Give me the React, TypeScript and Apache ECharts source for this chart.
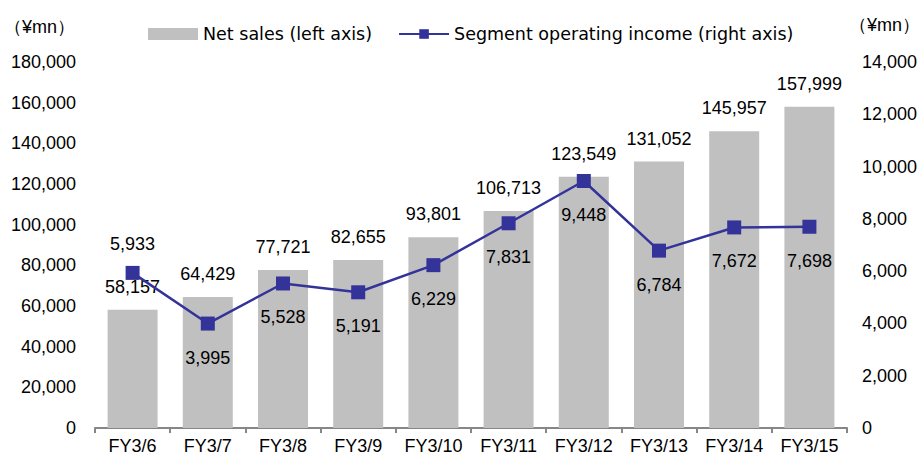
import React, { useEffect, useRef } from "react";
import * as echarts from "echarts";

const categories = ["FY3/6", "FY3/7", "FY3/8", "FY3/9", "FY3/10", "FY3/11", "FY3/12", "FY3/13", "FY3/14", "FY3/15"];
const netSales = [58157, 64429, 77721, 82655, 93801, 106713, 123549, 131052, 145957, 157999];
const segmentIncome = [5933, 3995, 5528, 5191, 6229, 7831, 9448, 6784, 7672, 7698];
const salesName = "Net sales (left axis)";
const incomeName = "Segment operating income (right axis)";
const unitLabel = "（¥mn）";

const FONT = "'Liberation Sans', Arial, sans-serif";
const LEGEND_FONT = "'DejaVu Sans', 'Liberation Sans', sans-serif";
const FS = 18;
const fmt = (v: number) => v.toLocaleString("en-US");

export default function App() {
  const ref = useRef<HTMLDivElement>(null);
  useEffect(() => {
    if (!ref.current) return;
    const chart = echarts.init(ref.current, undefined, { renderer: "svg" });
    chart.setOption({
      animation: false,
      backgroundColor: "#ffffff",
      textStyle: { fontFamily: FONT, color: "#000" },
      grid: { left: 95, right: 76, top: 62, bottom: 33 },
      legend: {
        left: 143,
        top: 20,
        itemWidth: 50,
        itemHeight: 12,
        itemGap: 26,
        textStyle: { fontFamily: LEGEND_FONT, fontSize: 17.5, color: "#000" },
        data: [
          { name: salesName, icon: "rect" },
          { name: incomeName },
        ],
      },
      graphic: [
        { type: "text", left: 4, top: 18, style: { text: unitLabel, font: `18px ${FONT}`, fill: "#000" } },
        { type: "text", right: 3, top: 16, style: { text: unitLabel, font: `18px ${FONT}`, fill: "#000" } },
      ],
      xAxis: {
        type: "category",
        data: categories,
        axisLine: { lineStyle: { color: "#868686", width: 2 } },
        axisTick: { show: true, alignWithLabel: false, length: 5, lineStyle: { color: "#868686", width: 2 } },
        axisLabel: { fontFamily: FONT, fontSize: FS, color: "#000", margin: 9, interval: 0 },
      },
      yAxis: [
        {
          type: "value",
          min: 0,
          max: 180000,
          interval: 20000,
          axisLine: { show: false },
          axisTick: { show: false },
          splitLine: { show: false },
          axisLabel: { fontFamily: FONT, fontSize: FS, color: "#000", margin: 19, formatter: (v: number) => fmt(v) },
        },
        {
          type: "value",
          min: 0,
          max: 14000,
          interval: 2000,
          position: "right",
          axisLine: { show: false },
          axisTick: { show: false },
          splitLine: { show: false },
          axisLabel: { fontFamily: FONT, fontSize: FS, color: "#000", margin: 15, formatter: (v: number) => fmt(v) },
        },
      ],
      series: [
        {
          name: salesName,
          type: "bar",
          data: netSales,
          barWidth: 50,
          itemStyle: { color: "#c0c0c0" },
          label: {
            show: true,
            position: "top",
            distance: 14,
            fontFamily: FONT,
            fontSize: FS,
            color: "#000",
            formatter: (p: any) => fmt(p.value),
          },
        },
        {
          name: incomeName,
          type: "line",
          yAxisIndex: 1,
          data: segmentIncome.map((v, i) => ({
            value: v,
            label: i === 0 ? { position: "top", distance: 13 } : { position: "bottom", distance: 18 },
          })),
          symbol: "rect",
          symbolSize: 14,
          itemStyle: { color: "#333399" },
          lineStyle: { color: "#333399", width: 2.5 },
          label: {
            show: true,
            fontFamily: FONT,
            fontSize: FS,
            color: "#000",
            formatter: (p: any) => fmt(p.value),
          },
        },
      ],
    });
    return () => chart.dispose();
  }, []);
  return <div ref={ref} style={{ position: "fixed", left: 0, top: 0, width: 923, height: 461 }} />;
}
